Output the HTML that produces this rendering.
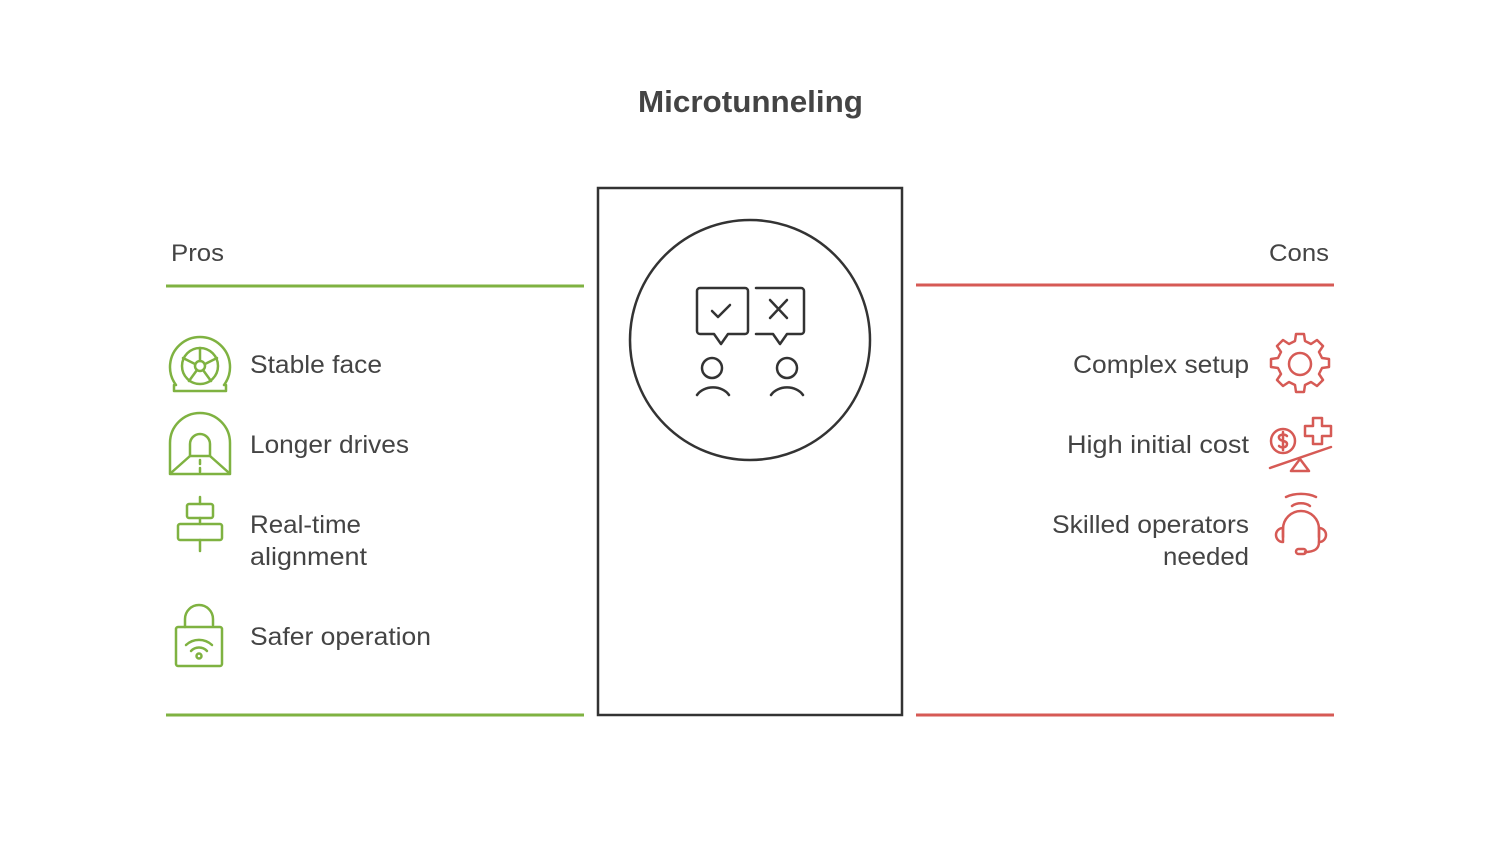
<!DOCTYPE html>
<html><head><meta charset="utf-8"><style>
html,body{margin:0;padding:0;background:#fff;}
svg text{font-family:"Liberation Sans",sans-serif;fill:#444;}
</style></head><body>
<svg width="1500" height="844" viewBox="0 0 1500 844" xmlns="http://www.w3.org/2000/svg">
<text x="638" y="112" font-size="31" font-weight="bold" textLength="225" lengthAdjust="spacingAndGlyphs">Microtunneling</text>
<text x="171" y="261" font-size="24" textLength="53" lengthAdjust="spacingAndGlyphs">Pros</text>
<text x="1269" y="261" font-size="24" textLength="60" lengthAdjust="spacingAndGlyphs">Cons</text>
<line x1="166" y1="286" x2="584" y2="286" stroke="#7fb241" stroke-width="3"/>
<line x1="166" y1="715" x2="584" y2="715" stroke="#7fb241" stroke-width="3"/>
<line x1="916" y1="285" x2="1334" y2="285" stroke="#d65a55" stroke-width="3"/>
<line x1="916" y1="715" x2="1334" y2="715" stroke="#d65a55" stroke-width="3"/>
<rect x="598" y="188" width="304" height="527" fill="none" stroke="#333" stroke-width="2.5"/>
<circle cx="750" cy="340" r="120" fill="none" stroke="#333" stroke-width="2.5"/>
<g fill="none" stroke="#333" stroke-width="2.5" stroke-linejoin="round" stroke-linecap="round">
<path d="M700 288h45a3 3 0 0 1 3 3v40a3 3 0 0 1-3 3h-17l-7 10-7-10h-14a3 3 0 0 1-3-3v-40a3 3 0 0 1 3-3z"/>
<path d="M712 311l6 6 12-12"/>
<path d="M756 288h45a3 3 0 0 1 3 3v40a3 3 0 0 1-3 3h-14l-7 10-7-10h-17"/>
<path d="M770 300l17 18M787 300l-17 18"/>
<circle cx="712" cy="368" r="10"/><path d="M697 395a18 14 0 0 1 32 0"/>
<circle cx="787" cy="368" r="10"/><path d="M771 395a18 14 0 0 1 32 0"/>
</g>
<g font-size="25" lengthAdjust="spacingAndGlyphs">
<text x="250" y="373" textLength="132" lengthAdjust="spacingAndGlyphs">Stable face</text>
<text x="250" y="453" textLength="159" lengthAdjust="spacingAndGlyphs">Longer drives</text>
<text x="250" y="533" textLength="111" lengthAdjust="spacingAndGlyphs">Real-time</text>
<text x="250" y="565" textLength="117" lengthAdjust="spacingAndGlyphs">alignment</text>
<text x="250" y="645" textLength="181" lengthAdjust="spacingAndGlyphs">Safer operation</text>
<text x="1073" y="373" textLength="176" lengthAdjust="spacingAndGlyphs">Complex setup</text>
<text x="1067" y="453" textLength="182" lengthAdjust="spacingAndGlyphs">High initial cost</text>
<text x="1052" y="533" textLength="197" lengthAdjust="spacingAndGlyphs">Skilled operators</text>
<text x="1163" y="565" textLength="86" lengthAdjust="spacingAndGlyphs">needed</text>
</g>
<g fill="none" stroke="#7fb241" stroke-width="2.5" stroke-linecap="round" stroke-linejoin="round">
<path d="M176 385a30 30 0 1 1 48 0h2v6h-52v-6z"/>
<circle cx="200" cy="366" r="18"/><circle cx="200" cy="366" r="5"/>
<path d="M200 348v13M195 364l-12-6M205 364l12-6M197 370l-8 11M203 370l8 11"/>
<path d="M170 474v-31a30 30 0 0 1 60 0v31z"/>
<path d="M190 456v-12a10 10 0 0 1 20 0v12z"/>
<path d="M172 472l18-16M228 472l-18-16M200 460v4M200 468v4"/>
<path d="M200 497v7M200 518v6M200 540v11"/>
<rect x="187" y="504" width="26" height="14" rx="2"/>
<rect x="178" y="524" width="44" height="16" rx="2"/>
<path d="M185 627v-8a14 14 0 0 1 28 0v6"/>
<rect x="176" y="627" width="46" height="39" rx="2"/>
<path d="M186 645a19 19 0 0 1 26 0M191 651a11 11 0 0 1 16 0"/>
<circle cx="199" cy="656" r="2.5"/>
</g>
<g fill="none" stroke="#d65a55" stroke-width="2.5" stroke-linecap="round" stroke-linejoin="round">
<path d="M1296 334h8l1 7 6 3 6-4 6 6-4 6 3 6 7 1v8l-7 1-3 6 4 6-6 6-6-4-6 3-1 7h-8l-1-7-6-3-6 4-6-6 4-6-3-6-7-1v-8l7-1 3-6-4-6 6-6 6 4 6-3z"/>
<circle cx="1300" cy="364" r="11"/>
<circle cx="1283" cy="441" r="12"/>
<path d="M1287 436c-2-2-9-2-8 2s8 2 8 6-6 4-8 2M1283 432v18"/>
<path d="M1313 418h9v8h9v10h-9v8h-9v-8h-8v-10h8z"/>
<path d="M1270 468l61-21"/>
<path d="M1300 459l-9 12h18z"/>
<path d="M1286 497a24 14 0 0 1 30 0M1292 506a12 8 0 0 1 18 0"/>
<path d="M1283 537v-8a18 18 0 0 1 36 0v8"/>
<path d="M1283 528a6 6 0 0 0 0 14zM1319 528a6 6 0 0 1 0 14z"/>
<path d="M1319 542c0 8-6 10-14 10"/>
<rect x="1296" y="549" width="10" height="5" rx="2.5"/>
</g>
</svg>
</body></html>
